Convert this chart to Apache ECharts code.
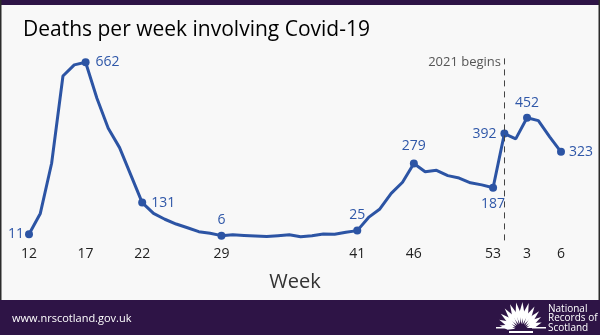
<!DOCTYPE html>
<html><head><meta charset="utf-8">
<script src="https://cdn.jsdelivr.net/npm/echarts@6/dist/echarts.min.js"></script>
<style>html,body{margin:0;padding:0;background:#f8f8f8}#c{width:600px;height:335px}</style>
</head><body><div id="c"></div>
<script>
// ---- data ----
const weeks2020 = ['12','13','14','15','16','17','18','19','20','21','22','23','24','25','26','27','28','29','30','31','32','33','34','35','36','37','38','39','40','41','42','43','44','45','46','47','48','49','50','51','52','53'];
const weeks2021 = ['1','2','3','4','5','6'];
const deaths2020 = [11,90,280,610,652,662,526,412,339,235,131,90,68,50,36,21,15,6,9,7,5,3,6,9,2,6,12,11,19,25,75,107,166,208,279,248,253,233,224,206,198,187];
const deaths2021 = [392,372,452,441,380,323];
const tickLabels = ['12','17','22','29','41','46','53','3','6'];
const labelledWeeks = ['12','17','22','29','41','46','53','1','3','6'];
const yearStartWeek = '1';
const yearStartText = '2021 begins';
const titleText = 'Deaths per week involving Covid-19';
const axisTitle = 'Week';

// ---- style ----
const BLUE = '#2c54a4';
const LABEL_BLUE = '#2f57a8';
const PURPLE = '#2e1446';
const FONT = '"Open Sans", "Noto Sans", sans-serif';
const labelPos = {
  '12': {position:'left', distance:1},
  '17': {position:'right', distance:6},
  '22': {position:'right', distance:5, offset:[0,-3]},
  '29': {position:'top', distance:5},
  '41': {position:'top', distance:5, offset:[-7,0]},
  '46': {position:'top', distance:6},
  '53': {position:'bottom', distance:5, offset:[-5,0]},
  '1':  {position:'left', distance:4},
  '3':  {position:'top', distance:4},
  '6':  {position:'right', distance:4}
};

const categories = weeks2020.concat(weeks2021);
const values = deaths2020.concat(deaths2021);
const seriesData = categories.map((c, i) => {
  if (labelledWeeks.includes(c)) {
    const p = labelPos[c];
    return {
      value: values[i],
      symbol: 'circle', symbolSize: 8,
      label: Object.assign({show: true, color: LABEL_BLUE, fontSize: 14, fontFamily: FONT}, p)
    };
  }
  return {value: values[i], symbol: 'none'};
});

const chart = echarts.init(document.getElementById('c'), null, {renderer: 'canvas'});

// fan logo leaves
const leaves = [];
const cx = 521, cy = 330;
const angles = [168, 155, 141, 127, 113, 100, 87, 74, 60, 46, 33, 20];
const lens = [22, 24, 26, 27, 28, 28, 28, 28, 27, 26, 24, 22];
angles.forEach((a, i) => {
  const r = a * Math.PI / 180;
  const L = lens[i];
  const tx = cx + Math.cos(r) * L, ty = cy - Math.sin(r) * L;
  const w = 2.6;
  const px = -Math.sin(r) * w, py = -Math.cos(r) * w;
  const mx = cx + Math.cos(r) * L * 0.6, my = cy - Math.sin(r) * L * 0.6;
  leaves.push({type: 'polygon', silent: true, shape: {points: [[cx + Math.cos(r)*6, cy - Math.sin(r)*6], [mx + px, my + py], [tx, ty], [mx - px, my - py]]}, style: {fill: '#ffffff'}});
});

chart.setOption({
  backgroundColor: '#f8f8f8',
  animation: false,
  title: {
    text: titleText, left: 18, top: 15,
    textStyle: {fontFamily: FONT, fontSize: 21, fontWeight: 500, color: '#000'}
  },
  grid: {left: 29, right: 39, top: 57.5, bottom: 94.6},
  xAxis: {
    type: 'category', data: categories, boundaryGap: false,
    axisLine: {show: false}, axisTick: {show: false},
    axisLabel: {
      interval: (idx, val) => tickLabels.includes(val),
      color: '#222', fontSize: 14, fontFamily: FONT, margin: 7
    },
    name: axisTitle, nameLocation: 'middle', nameGap: 32,
    nameTextStyle: {fontFamily: FONT, fontSize: 20, color: '#333'}
  },
  yAxis: {type: 'value', min: -12, max: 680, show: false},
  series: [{
    type: 'line', data: seriesData,
    lineStyle: {color: BLUE, width: 3},
    itemStyle: {color: BLUE},
    showSymbol: true, showAllSymbol: true,
    labelLayout: {hideOverlap: false},
    markLine: {
      silent: true, symbol: 'none',
      lineStyle: {color: '#444', type: [6, 5], width: 1},
      label: {show: false},
      data: [{xAxis: yearStartWeek}]
    }
  }],
  graphic: [
    {type: 'rect', silent: true, shape: {x: 0, y: 0, width: 600, height: 5}, style: {fill: PURPLE}},
    {type: 'rect', silent: true, shape: {x: 0, y: 0, width: 1.5, height: 335}, style: {fill: '#2b2b2b'}},
    {type: 'rect', silent: true, shape: {x: 598.5, y: 0, width: 1.5, height: 335}, style: {fill: '#2b2b2b'}},
    {type: 'rect', silent: true, shape: {x: 0, y: 300, width: 600, height: 35}, style: {fill: PURPLE}},
    {type: 'text', silent: true, x: 12, y: 319, style: {text: 'www.nrscotland.gov.uk', fill: '#ffffff', fontSize: 11, fontFamily: FONT, verticalAlign: 'middle'}},
    {type: 'text', silent: true, x: 548, y: 318.5, style: {text: 'National\nRecords of\nScotland', fill: '#ffffff', fontSize: 10, lineHeight: 9.5, fontFamily: FONT, verticalAlign: 'middle'}},
    {type: 'text', silent: true, x: 501, y: 62, style: {text: yearStartText, fill: '#555', fontSize: 13, fontFamily: FONT, align: 'right', verticalAlign: 'middle'}},
    {type: 'rect', silent: true, shape: {x: 509, y: 331, width: 24, height: 2}, style: {fill: '#ffffff'}},
    {type: 'rect', silent: true, shape: {x: 496, y: 327, width: 14, height: 1.5}, style: {fill: '#ffffff'}},
    {type: 'rect', silent: true, shape: {x: 532, y: 327, width: 14, height: 1.5}, style: {fill: '#ffffff'}}
  ].concat(leaves)
});
</script></body></html>
